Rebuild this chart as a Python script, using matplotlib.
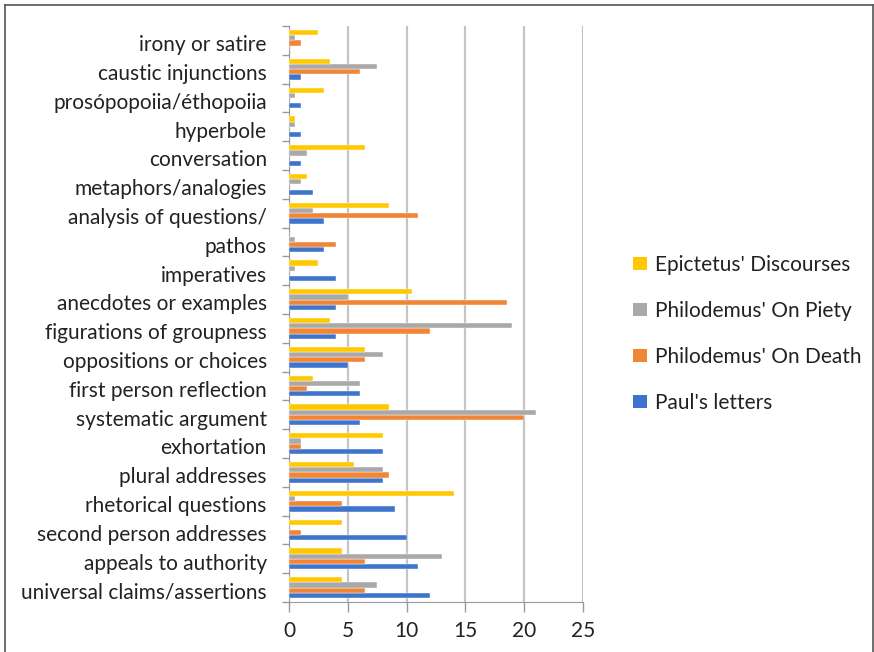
import matplotlib.pyplot as plt
from matplotlib.patches import Patch
from matplotlib.lines import Line2D
import numpy as np

plt.rcParams['font.family'] = ['Lato', 'DejaVu Sans']

# categories listed bottom to top
categories = ['universal claims/assertions', 'appeals to authority', 'second person addresses',
              'rhetorical questions', 'plural addresses', 'exhortation', 'systematic argument',
              'first person reflection', 'oppositions or choices', 'figurations of groupness',
              'anecdotes or examples', 'imperatives', 'pathos', 'analysis of questions/',
              'metaphors/analogies', 'conversation', 'hyperbole', 'prosópopoiia/éthopoiia',
              'caustic injunctions', 'irony or satire']

paul = [12, 11, 10, 9, 8, 8, 6, 6, 5, 4, 4, 4, 3, 3, 2, 1, 1, 1, 1, 0]
on_death = [6.5, 6.5, 1, 4.5, 8.5, 1, 20, 1.5, 6.5, 12, 18.5, 0, 4, 11, 0, 0, 0, 0, 6, 1]
on_piety = [7.5, 13, 0, 0.5, 8, 1, 21, 6, 8, 19, 5, 0.5, 0.5, 2, 1, 1.5, 0.5, 0.5, 7.5, 0.5]
epictetus = [4.5, 4.5, 4.5, 14, 5.5, 8, 8.5, 2, 6.5, 3.5, 10.5, 2.5, 0, 8.5, 1.5, 6.5, 0.5, 3, 3.5, 2.5]

series = [("Paul's letters", paul, '#3f74cc'),
          ("Philodemus' On Death", on_death, '#f08536'),
          ("Philodemus' On Piety", on_piety, '#a9a9a9'),
          ("Epictetus' Discourses", epictetus, '#ffc800')]

fs = 15

fig = plt.figure(figsize=(8.74, 6.52), dpi=100)
ax = fig.add_axes([289 / 874, 50 / 652, 294 / 874, 576 / 652])

y = np.arange(len(categories))
h = 0.18
offsets = [-0.27, -0.09, 0.09, 0.27]
for (name, vals, col), off in zip(series, offsets):
    ax.barh(y + off, vals, height=h, color=col, edgecolor='white', linewidth=0.3, zorder=3)

ax.set_xlim(0, 25)
ax.set_ylim(-0.5, len(categories) - 0.5)
ax.set_xticks([0, 5, 10, 15, 20, 25])
ax.set_yticks(y - 0.1)
ax.set_yticklabels(categories)
ax.set_yticks(np.arange(-0.5, len(categories)), minor=True)
ax.tick_params(axis='y', which='major', length=0, pad=16, labelsize=fs, colors='#222222')
ax.tick_params(axis='y', which='minor', length=5, width=1, color='#999999', direction='out')
ax.tick_params(axis='x', length=7, width=1, color='#999999', pad=7, labelsize=fs, labelcolor='#222222')

ax.grid(axis='x', color='#c4c4c4', linewidth=1.6, zorder=0)
for s in ['top', 'right']:
    ax.spines[s].set_visible(False)
ax.spines['left'].set_color('#999999')
ax.spines['bottom'].set_color('#999999')

handles = [Patch(facecolor=c, edgecolor='none', label=n) for n, v, c in series[::-1]]
fig.legend(handles=handles, loc='upper left', bbox_to_anchor=(614 / 874, 1 - 236 / 652),
           frameon=False, fontsize=fs, handlelength=0.7, handleheight=0.55,
           handletextpad=0.35, labelspacing=1.25, labelcolor='#222222')

# outer frame of the chart
fc = '#555555'
fig.add_artist(Line2D([5 / 874, 5 / 874], [0, 1 - 5 / 652], color=fc, lw=1.2, transform=fig.transFigure))
fig.add_artist(Line2D([5 / 874, 872.5 / 874], [1 - 5 / 652, 1 - 5 / 652], color=fc, lw=1.2, transform=fig.transFigure))
fig.add_artist(Line2D([872.5 / 874, 872.5 / 874], [0, 1 - 5 / 652], color=fc, lw=1.2, transform=fig.transFigure))

fig.savefig('out.png', dpi=100)
